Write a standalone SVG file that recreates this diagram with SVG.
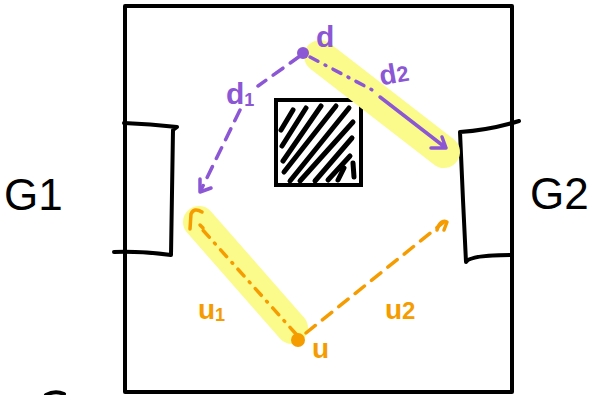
<svg xmlns="http://www.w3.org/2000/svg" width="593" height="395" viewBox="0 0 593 395">
  <style>
    .ink { fill: none; stroke: #000; stroke-width: 4; stroke-linecap: round; stroke-linejoin: round; }
    .hatch { fill: none; stroke: #000; stroke-width: 5; stroke-linecap: round; }
    .hl { fill: none; stroke: #fbfb8c; stroke-width: 32; stroke-linecap: round; }
    .pur { fill: none; stroke: #8c57d4; stroke-width: 3.5; stroke-linecap: round; stroke-linejoin: round; }
    .org { fill: none; stroke: #f59c00; stroke-width: 3.5; stroke-linecap: round; stroke-linejoin: round; }
    .dashdot { stroke-dasharray: 9 8 1 8; }
    .dash { stroke-dasharray: 12 9; }
    .lbl { font-family: "Liberation Sans", "DejaVu Sans", sans-serif; }
    .b { font-weight: bold; }
    .p { fill: #8c57d4; }
    .o { fill: #f59c00; }
    .k { fill: #000; }
  </style>

  <!-- room outline -->
  <g id="room">
    <path class="ink" d="M125,6 L512,6 L512,392 M125,392 L512,392 M125,6 L125,392"/>
    <path class="ink" d="M46,395 Q55,390 64,394"/>
  </g>

  <!-- left gate -->
  <g id="gate-G1">
    <path class="ink" d="M124,123 Q150,124 177,127 L173,130 L171,255 Q140,251 114,252"/>
    <text class="lbl k" x="4" y="210" font-size="44">G1</text>
  </g>

  <!-- right gate -->
  <g id="gate-G2">
    <path class="ink" d="M519,121 Q490,130 460,132 L463,200 L466,262 Q470,255 512,255"/>
    <text class="lbl k" x="530" y="209" font-size="44">G2</text>
  </g>

  <!-- obstacle -->
  <g id="obstacle">
    <rect x="276" y="100" width="85" height="85" fill="#fff" stroke="#000" stroke-width="4"/>
    <path class="hatch" d="M293,110 L281,130 M306,108 L282,146 M321,106 L283,161 M336,106 L284,172 M349,108 L290,181 M353,122 L300,181 M352,138 L315,181 M350,156 L328,180 M344,168 L338,180 M353,163 L354,177"/>
  </g>

  <!-- highlighted paths -->
  <g id="highlights">
    <path class="hl" d="M320,56 L444,152"/>
    <path class="hl" d="M199,222 L292,328"/>
  </g>

  <!-- connectors -->
  <g id="connectors">
    <!-- d1 -->
    <path class="pur dash" d="M300,56 L258,86 M240,110 L201,190"/>
    <path class="pur" d="M200,179 L200,192 L211,188"/>
    <!-- d2 -->
    <path class="pur dashdot" d="M310,57 L376,92"/>
    <path class="pur" d="M380,97 L446,148 M431,148 L446,148 L442,137"/>
    <!-- u1 -->
    <path class="org dashdot" d="M296,334 L201,228"/>
    <path class="org" d="M202,212 Q194,207 191,214 L190,229 M200,225 L203,228"/>
    <!-- u2 -->
    <path class="org dash" d="M306,333 L444,222"/>
    <path class="org" d="M437,230 Q440,219 447,222 L444,230"/>
  </g>

  <!-- nodes -->
  <g id="node-d">
    <circle class="p" cx="303" cy="53" r="6"/>
    <text class="lbl b p" x="316" y="47" font-size="30">d</text>
  </g>
  <g id="node-u">
    <circle class="o" cx="298" cy="340" r="7"/>
    <text class="lbl b o" x="312" y="358" font-size="28">u</text>
  </g>

  <!-- edge labels -->
  <g id="labels">
    <text class="lbl b p" x="226" y="104" font-size="30">d<tspan font-size="18" dy="2">1</tspan></text>
    <text class="lbl b p" x="379" y="82" font-size="28" transform="rotate(-10 400 72)">d<tspan font-size="22">2</tspan></text>
    <text class="lbl b o" x="198" y="319" font-size="28">u<tspan font-size="18" dy="2">1</tspan></text>
    <text class="lbl b o" x="385" y="319" font-size="28">u<tspan font-size="24">2</tspan></text>
  </g>
</svg>
